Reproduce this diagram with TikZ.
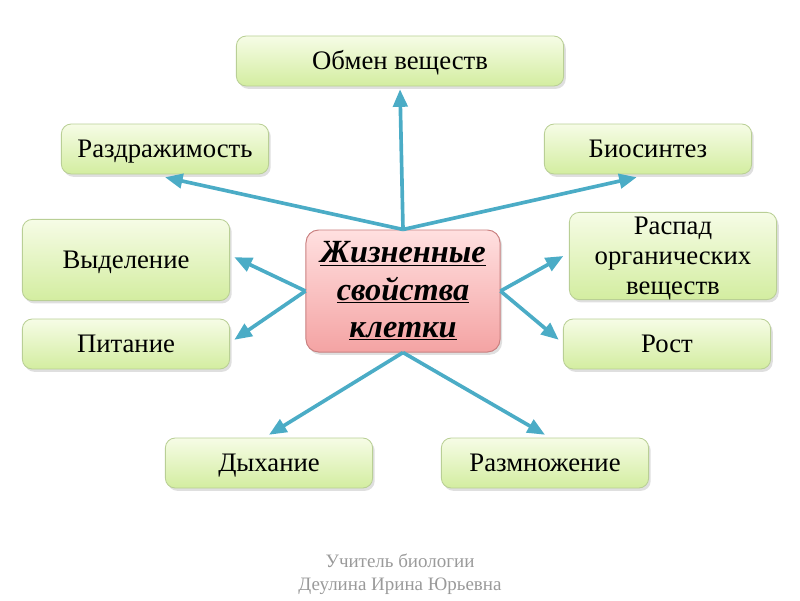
\documentclass[tikz,border=0pt]{standalone}
\usepackage{fontspec}
\setmainfont{Liberation Serif}
\usepackage{tikz}
\usetikzlibrary{arrows.meta,shadows}
\definecolor{leaftop}{HTML}{F6FCE6}
\definecolor{leafbot}{HTML}{D3EDA0}
\definecolor{leafline}{HTML}{B9CF95}
\definecolor{coretop}{HTML}{FFE0E0}
\definecolor{corebot}{HTML}{F4A3A3}
\definecolor{coreline}{HTML}{C98080}
\definecolor{link}{HTML}{4BACC6}
\definecolor{muted}{HTML}{9A9A9A}
\tikzset{
  leaf/.style={draw=leafline, top color=leaftop, bottom color=leafbot,
               rounded corners=7pt, line width=0.6pt, align=center,
               minimum width=5.18cm, minimum height=1.25cm, inner sep=3pt,
               text height=2.75ex, text depth=0.25ex,
               font=\fontsize{19}{21.5}\selectfont,
               drop shadow={shadow xshift=1.5pt, shadow yshift=-2pt, opacity=0.25}},
  core/.style={draw=coreline, top color=coretop, bottom color=corebot,
               rounded corners=9pt, line width=0.7pt, align=center,
               minimum width=4.85cm, minimum height=3.05cm, inner sep=3pt,
               font=\fontsize{23}{26.5}\selectfont\bfseries\itshape,
               drop shadow={shadow xshift=1.5pt, shadow yshift=-2pt, opacity=0.25}},
  arrow/.style={-{Triangle[length=4.4mm,width=3.6mm]}, line width=2.6pt, draw=link}
}

\begin{document}
\begin{tikzpicture}[x=0.025cm,y=-0.025cm]
  \useasboundingbox (0,0) rectangle (800,600);

  \node[core] (cell) at (403,291) {\underline{Жизненные}\\\underline{свойства}\\\underline{клетки}};

  \node[leaf, minimum width=8.18cm] (obmen) at (400,61) {Обмен веществ};
  \node[leaf] (razd) at (165,149) {Раздражимость};
  \node[leaf] (bios) at (648,149) {Биосинтез};
  \node[leaf, minimum height=2.03cm] (vyd) at (126,260) {Выделение};
  \node[leaf, minimum height=2.18cm, text height=, text depth=-1.3ex] (rasp) at (673,256) {Распад\\органических\\веществ};
  \node[leaf] (pit) at (126,344) {Питание};
  \node[leaf] (rost) at (667,344) {Рост};
  \node[leaf] (dykh) at (269,463) {Дыхание};
  \node[leaf] (razm) at (545,463) {Размножение};

  % arrows from the centre
  \draw[arrow] (cell.north) -- ([yshift=-2pt]obmen.south);
  \draw[arrow] (cell.north) -- ([yshift=-2pt]razd.south);
  \draw[arrow] (cell.north) -- ([xshift=-8pt,yshift=-2pt]bios.south);
  \draw[arrow] (cell.west) -- ([xshift=3pt,yshift=2pt]vyd.east);
  \draw[arrow] (cell.west) -- ([xshift=3pt,yshift=3pt]pit.east);
  \draw[arrow] (cell.east) -- ([xshift=-4pt]rasp.west);
  \draw[arrow] (cell.east) -- ([xshift=-3pt,yshift=3pt]rost.west);
  \draw[arrow] (cell.south) -- ([yshift=2pt]dykh.north);
  \draw[arrow] (cell.south) -- ([yshift=2pt]razm.north);

  \node[text=muted, align=center, font=\fontsize{13.5}{16}\selectfont] (author) at (400,574)
    {Учитель биологии\\Деулина Ирина Юрьевна};
\end{tikzpicture}
\end{document}
